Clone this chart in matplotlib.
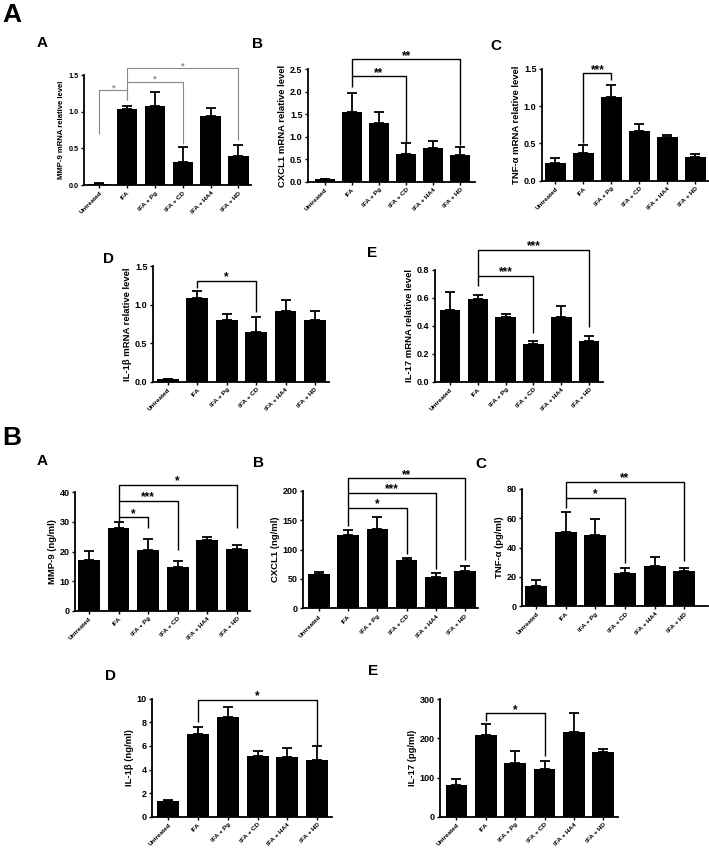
import matplotlib
matplotlib.use("Agg")
import matplotlib.pyplot as plt
import numpy as np

plt.rcParams['font.family'] = ['Liberation Sans', 'DejaVu Sans']
plt.rcParams['font.weight'] = 'bold'

W, H = 709, 849
groups = ["Untreated", "IFA", "IFA + Pg", "IFA + CD", "IFA + HA4", "IFA + HD"]

# ---- Section A: mRNA relative levels ----
mmp9_mrna = [0.02, 1.04, 1.08, 0.32, 0.94, 0.40]
mmp9_mrna_err = [0.01, 0.04, 0.19, 0.20, 0.11, 0.15]
cxcl1_mrna = [0.05, 1.54, 1.31, 0.62, 0.75, 0.60]
cxcl1_mrna_err = [0.02, 0.44, 0.25, 0.24, 0.16, 0.18]
tnfa_mrna = [0.24, 0.37, 1.13, 0.67, 0.59, 0.32]
tnfa_mrna_err = [0.06, 0.11, 0.15, 0.09, 0.02, 0.04]
il1b_mrna = [0.03, 1.09, 0.80, 0.64, 0.92, 0.80]
il1b_mrna_err = [0.01, 0.09, 0.08, 0.20, 0.14, 0.12]
il17_mrna = [0.51, 0.59, 0.46, 0.27, 0.46, 0.29]
il17_mrna_err = [0.13, 0.03, 0.02, 0.02, 0.08, 0.04]

# ---- Section B: protein levels ----
mmp9_prot = [17.1, 27.8, 20.5, 14.9, 23.9, 20.7]
mmp9_prot_err = [3.2, 2.1, 3.7, 2.0, 1.1, 1.5]
cxcl1_prot = [58, 125, 135, 82, 53, 63]
cxcl1_prot_err = [4, 9, 20, 4, 7, 9]
tnfa_prot = [13.7, 50.3, 48.7, 22.3, 27.5, 23.9]
tnfa_prot_err = [4.1, 14.1, 10.5, 3.8, 5.7, 2.3]
il1b_prot = [1.35, 6.98, 8.47, 5.14, 5.08, 4.80]
il1b_prot_err = [0.10, 0.65, 0.85, 0.43, 0.77, 1.19]
il17_prot = [81, 210, 138, 122, 217, 166]
il17_prot_err = [15, 26, 30, 20, 47, 8]

fig = plt.figure(figsize=(W / 100, H / 100), dpi=100)


def panel(rect_px, xlim, ylim, yticks, fmt, ylabel, vals, errs, brackets,
          bcolor='black', tfs=6.5, lfs=6.8, xfs=4.6, sfs=8.5, blw=1.0):
    l, r, t, b = rect_px
    ax = fig.add_axes([l / W, 1 - b / H, (r - l) / W, (b - t) / H])
    x = np.arange(len(groups))
    ax.bar(x, vals, width=0.74, color='black', zorder=2)
    ax.errorbar(x, vals, yerr=[np.zeros(len(vals)), errs], fmt='none',
                ecolor='black', elinewidth=1.3, capsize=3.3, capthick=1.3,
                zorder=1)
    ax.set_xlim(*xlim)
    ax.set_ylim(*ylim)
    ax.set_yticks(yticks)
    ax.set_yticklabels([fmt.format(v) for v in yticks], fontsize=tfs,
                       fontweight='bold')
    ax.set_xticks(x)
    ax.set_xticklabels(groups, rotation=45, ha='right', fontsize=xfs,
                       fontweight='bold', rotation_mode='anchor')
    ax.tick_params(axis='both', direction='out', length=2.5, width=1.0,
                   pad=1.5)
    for s in ['top', 'right']:
        ax.spines[s].set_visible(False)
    for s in ['left', 'bottom']:
        ax.spines[s].set_linewidth(1.3)
    ax.set_ylabel(ylabel, fontsize=lfs, fontweight='bold', labelpad=2)
    for (i, j, yl, yleft, yright, txt) in brackets:
        ax.plot([i, i, j, j], [yleft, yl, yl, yright], color=bcolor,
                lw=blw, clip_on=False, solid_capstyle='butt')
        ax.text((i + j) / 2, yl - (ylim[1] - ylim[0]) * 0.02, txt,
                ha='center', va='bottom', fontsize=sfs, color=bcolor,
                clip_on=False)
    return ax


# Section A panels
panel((84, 251, 75, 185), (-0.55, 5.45), (0, 1.5), [0, 0.5, 1.0, 1.5],
      "{:.1f}", "MMP-9 mRNA relative level", mmp9_mrna, mmp9_mrna_err,
      [(0, 1, 1.29, 0.70, 1.16, "*"), (1, 3, 1.41, 1.16, 0.56, "*"),
       (1, 5, 1.59, 1.41, 0.62, "*")],
      bcolor='#888888', tfs=5.2, lfs=5.6, sfs=6.5, blw=0.8)
panel((308, 475, 69.3, 181.7), (-0.63, 5.55), (0, 2.5),
      [0, 0.5, 1.0, 1.5, 2.0, 2.5], "{:.1f}", "CXCL1 mRNA relative level",
      cxcl1_mrna, cxcl1_mrna_err,
      [(1, 3, 2.34, 2.10, 0.87, "**"), (1, 5, 2.72, 2.34, 0.82, "**")])
panel((542, 708, 69, 180.7), (-0.48, 5.45), (0, 1.5), [0, 0.5, 1.0, 1.5],
      "{:.1f}", "TNF-α mRNA relative level", tnfa_mrna, tnfa_mrna_err,
      [(1, 2, 1.44, 0.50, 1.35, "***")])
panel((153, 329, 266, 381.7), (-0.51, 5.48), (0, 1.5), [0, 0.5, 1.0, 1.5],
      "{:.1f}", "IL-1β mRNA relative level", il1b_mrna, il1b_mrna_err,
      [(1, 3, 1.31, 1.22, 0.90, "*")])
panel((435, 603, 269.7, 381.7), (-0.54, 5.5), (0, 0.8),
      [0, 0.2, 0.4, 0.6, 0.8], "{:.1f}", "IL-17 mRNA relative level",
      il17_mrna, il17_mrna_err,
      [(1, 3, 0.757, 0.68, 0.345, "***"), (1, 5, 0.94, 0.757, 0.39, "***")])

# Section B panels
panel((75, 250, 492.3, 610.7), (-0.47, 5.44), (0, 40), [0, 10, 20, 30, 40],
      "{:d}", "MMP-9 (ng/ml)", mmp9_prot, mmp9_prot_err,
      [(1, 2, 31.5, 30.4, 27.8, "*"), (1, 3, 37.2, 31.5, 20.5, "***"),
       (1, 5, 42.5, 37.2, 27.8, "*")])
panel((303, 478, 490.7, 608.3), (-0.55, 5.45), (0, 200),
      [0, 50, 100, 150, 200], "{:d}", "CXCL1 (ng/ml)", cxcl1_prot,
      cxcl1_prot_err,
      [(1, 3, 171, 140, 93, "*"), (1, 4, 196, 171, 66, "***"),
       (1, 5, 221, 196, 82, "**")])
panel((522, 708, 489, 606), (-0.48, 5.8), (0, 80), [0, 20, 40, 60, 80],
      "{:d}", "TNF-α (pg/ml)", tnfa_prot, tnfa_prot_err,
      [(1, 3, 74, 67, 29.5, "*"), (1, 5, 85, 74, 31, "**")])
panel((152, 332, 698.7, 816.7), (-0.55, 5.5), (0, 10), [0, 2, 4, 6, 8, 10],
      "{:d}", "IL-1β (ng/ml)", il1b_prot, il1b_prot_err,
      [(1, 5, 9.89, 8.0, 6.1, "*")])
panel((440, 618, 699.3, 816.7), (-0.56, 5.5), (0, 300), [0, 100, 200, 300],
      "{:d}", "IL-17 (pg/ml)", il17_prot, il17_prot_err,
      [(1, 3, 264, 245, 155, "*")])

# Panel letters
def label(x, y, s, size):
    fig.text(x / W, 1 - y / H, s, fontsize=size, fontweight='bold',
             ha='left', va='baseline')

label(2, 22, "A", 19)
label(2, 445, "B", 19)
for (x, y, s) in [(37, 47, "A"), (252, 48, "B"), (490, 50, "C"),
                  (103, 263, "D"), (367, 257, "E"),
                  (37, 465, "A"), (253, 467, "B"), (475, 468, "C"),
                  (105, 680, "D"), (368, 675, "E")]:
    label(x, y, s, 11)

fig.savefig("out.png", dpi=100)
